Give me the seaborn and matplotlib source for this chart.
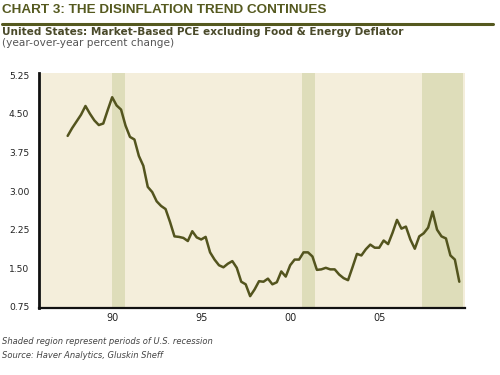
import matplotlib
matplotlib.use("Agg")
import matplotlib.pyplot as plt
import seaborn as sns
import numpy as np
import pandas as pd

# quarterly data, 1988Q1 .. 2010Q1
start_year = 1988
pce_core = [
    4.07, 4.22, 4.35, 4.48,   # 1988
    4.65, 4.50, 4.37, 4.28,   # 1989
    4.31, 4.57, 4.82, 4.66,   # 1990
    4.58, 4.27, 4.05, 4.00,   # 1991
    3.68, 3.49, 3.08, 2.98,   # 1992
    2.80, 2.71, 2.65, 2.40,   # 1993
    2.12, 2.11, 2.09, 2.03,   # 1994
    2.22, 2.10, 2.06, 2.11,   # 1995
    1.81, 1.67, 1.56, 1.52,   # 1996
    1.59, 1.64, 1.51, 1.24,   # 1997
    1.19, 0.96, 1.09, 1.25,   # 1998
    1.24, 1.30, 1.19, 1.23,   # 1999
    1.44, 1.34, 1.56, 1.67,   # 2000
    1.67, 1.81, 1.81, 1.73,   # 2001
    1.47, 1.48, 1.51, 1.48,   # 2002
    1.48, 1.38, 1.31, 1.27,   # 2003
    1.52, 1.78, 1.75, 1.87,   # 2004
    1.96, 1.90, 1.90, 2.04,   # 2005
    1.97, 2.19, 2.44, 2.27,   # 2006
    2.31, 2.06, 1.88, 2.12,   # 2007
    2.18, 2.29, 2.60, 2.25,   # 2008
    2.12, 2.08, 1.75, 1.67,   # 2009
    1.24,                     # 2010
]
recessions = [(1990.5, 1991.2), (2001.17, 2001.9), (2007.92, 2010.2)]
yticks = [0.75, 1.50, 2.25, 3.00, 3.75, 4.50, 5.25]
xlabel_years = [1990, 1995, 2000, 2005]
xlabels = ["90", "95", "00", "05"]

df = pd.DataFrame({
    "t": start_year + np.arange(len(pce_core)) / 4.0,
    "v": pce_core,
})

sns.set_style("white")
plt.rcParams["font.family"] = ["DejaVu Sans"]

BG = "#F4EEDB"
SHADE = "#DEDDBA"
LINE = "#53541E"
OLIVE = "#55591F"

fig = plt.figure(figsize=(5, 3.75), dpi=100)
ax = fig.add_axes([39 / 500, 1 - 307.5 / 375, (465 - 39) / 500, (307.5 - 73) / 375])
ax.set_facecolor(BG)

for a, b in recessions:
    ax.axvspan(a, b, color=SHADE, lw=0, zorder=0)

sns.lineplot(data=df, x="t", y="v", ax=ax, color=LINE, lw=1.8, zorder=3)

ax.set_xlim(1986.39, 2010.32)
ax.set_ylim(0.74, 5.29)
ax.set_yticks(yticks)
ax.set_yticklabels([f"{v:.2f}" for v in yticks], fontsize=6.6, color="#222222")
ax.set_xticks(np.arange(1987, 2011))
ax.set_xticklabels([])
ax.set_xticks([y + 0.5 for y in xlabel_years], minor=True)
ax.set_xticklabels(xlabels, minor=True, fontsize=7, color="#222222")
ax.tick_params(axis="x", which="minor", length=0, pad=4)
ax.tick_params(axis="x", which="major", length=5, width=0.8, color="#333333", direction="out")
ax.tick_params(axis="y", length=6, width=1.2, color="#111111", direction="out", pad=1)
ax.set_xlabel("")
ax.set_ylabel("")
for s in ["top", "right"]:
    ax.spines[s].set_visible(False)
ax.spines["left"].set_linewidth(2)
ax.spines["left"].set_color("#111111")
ax.spines["bottom"].set_linewidth(1.6)
ax.spines["bottom"].set_color("#111111")

fig.text(2 / 500, 1 - 13 / 375, "CHART 3: THE DISINFLATION TREND CONTINUES",
         family=["Liberation Sans", "DejaVu Sans"], weight="bold", fontsize=9.7,
         color=OLIVE, va="baseline", ha="left")
fig.add_artist(plt.Line2D([2 / 500, 493 / 500], [1 - 23.5 / 375, 1 - 23.5 / 375],
                          color=OLIVE, lw=2.2, transform=fig.transFigure))
fig.text(2 / 500, 1 - 35 / 375, "United States: Market-Based PCE excluding Food & Energy Deflator",
         weight="bold", fontsize=7.6, color="#4A4A2A", va="baseline", ha="left")
fig.text(2 / 500, 1 - 46.5 / 375, "(year-over-year percent change)",
         fontsize=7.6, color="#555555", va="baseline", ha="left")
fig.text(2 / 500, 1 - 344.5 / 375, "Shaded region represent periods of U.S. recession",
         style="italic", fontsize=6.0, color="#444444", va="baseline", ha="left")
fig.text(2 / 500, 1 - 358.5 / 375, "Source: Haver Analytics, Gluskin Sheff",
         style="italic", fontsize=6.0, color="#444444", va="baseline", ha="left")

fig.savefig("out.png", dpi=100, facecolor="white")
